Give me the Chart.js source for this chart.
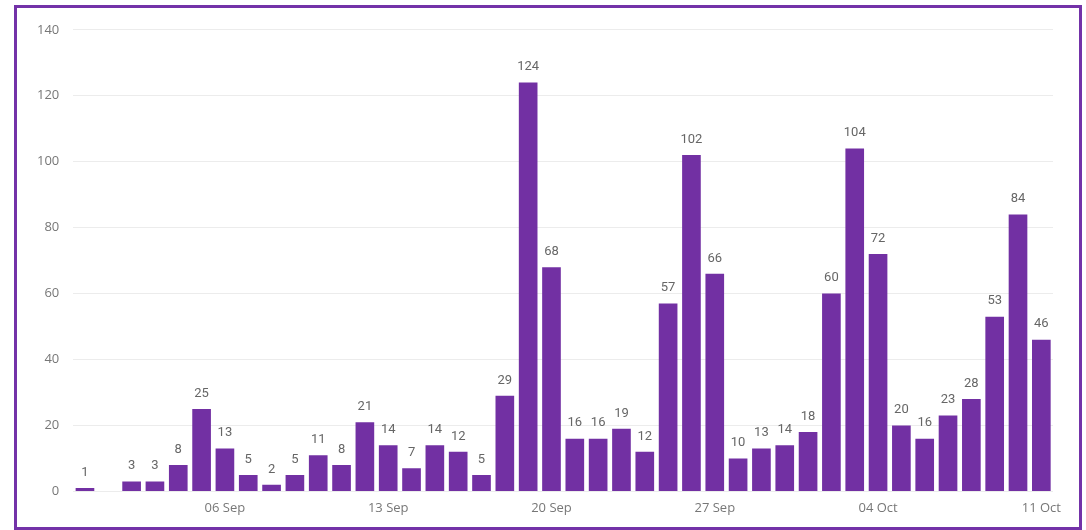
<!DOCTYPE html>
<html>
<head>
<meta charset="utf-8">
<script src="https://cdn.jsdelivr.net/npm/chart.js@4/dist/chart.umd.min.js"></script>
<style>
  html, body { margin: 0; padding: 0; background: #fff; }
  body { width: 1086px; height: 530px; position: relative; overflow: hidden; }
  #frame {
    position: absolute; left: 14px; top: 5px; width: 1068px; height: 525px;
    border: 3px solid #7332a8; box-sizing: border-box; background: #fff;
  }
  #chart { display: block; }
</style>
</head>
<body>
<div id="frame"><canvas id="chart" width="1062" height="519"></canvas></div>
<script>
// daily counts, 31 Aug .. 11 Oct (1 Sep has no value)
const days = [
  '31 Aug', '01 Sep', '02 Sep', '03 Sep', '04 Sep', '05 Sep', '06 Sep',
  '07 Sep', '08 Sep', '09 Sep', '10 Sep', '11 Sep', '12 Sep', '13 Sep',
  '14 Sep', '15 Sep', '16 Sep', '17 Sep', '18 Sep', '19 Sep', '20 Sep',
  '21 Sep', '22 Sep', '23 Sep', '24 Sep', '25 Sep', '26 Sep', '27 Sep',
  '28 Sep', '29 Sep', '30 Sep', '01 Oct', '02 Oct', '03 Oct', '04 Oct',
  '05 Oct', '06 Oct', '07 Oct', '08 Oct', '09 Oct', '10 Oct', '11 Oct'
];
const counts = [
  1, null, 3, 3, 8, 25, 13,
  5, 2, 5, 11, 8, 21, 14,
  7, 14, 12, 5, 29, 124, 68,
  16, 16, 19, 12, 57, 102, 66,
  10, 13, 14, 18, 60, 104, 72,
  20, 16, 23, 28, 53, 84, 46
];
const shownTicks = ['06 Sep', '13 Sep', '20 Sep', '27 Sep', '04 Oct', '11 Oct'];

const barColor = '#7230a3';

// draws the value above each bar
const valueLabels = {
  id: 'valueLabels',
  afterDatasetsDraw(chart) {
    const ctx = chart.ctx;
    const meta = chart.getDatasetMeta(0);
    ctx.save();
    ctx.font = '13px Roboto, "DejaVu Sans", sans-serif';
    ctx.fillStyle = '#666';
    ctx.textAlign = 'center';
    ctx.textBaseline = 'bottom';
    meta.data.forEach((bar, i) => {
      const v = counts[i];
      if (v === null) return;
      ctx.fillText(String(v), bar.x, bar.y - 9);
    });
    ctx.restore();
  }
};

new Chart(document.getElementById('chart'), {
  type: 'bar',
  data: {
    labels: days,
    datasets: [{
      data: counts,
      backgroundColor: barColor,
      barPercentage: 0.8,
      categoryPercentage: 1.0
    }]
  },
  options: {
    responsive: false,
    animation: false,
    layout: { padding: { left: 6, right: 26, top: 18, bottom: 10 } },
    plugins: { legend: { display: false }, tooltip: { enabled: false } },
    scales: {
      x: {
        grid: { display: false },
        border: { display: false },
        ticks: {
          autoSkip: false,
          maxRotation: 0,
          padding: 1,
          color: '#777',
          font: { family: '"Open Sans", "Noto Sans", sans-serif', size: 13 },
          callback: function (value) {
            const lab = this.getLabelForValue(value);
            return shownTicks.includes(lab) ? lab : '';
          }
        }
      },
      y: {
        min: 0,
        max: 140,
        grid: { color: '#ececec', drawTicks: false },
        border: { display: false },
        ticks: {
          stepSize: 20,
          padding: 14,
          color: '#777',
          font: { family: '"Open Sans", "Noto Sans", sans-serif', size: 13 }
        }
      }
    }
  },
  plugins: [valueLabels]
});
</script>
</body>
</html>
